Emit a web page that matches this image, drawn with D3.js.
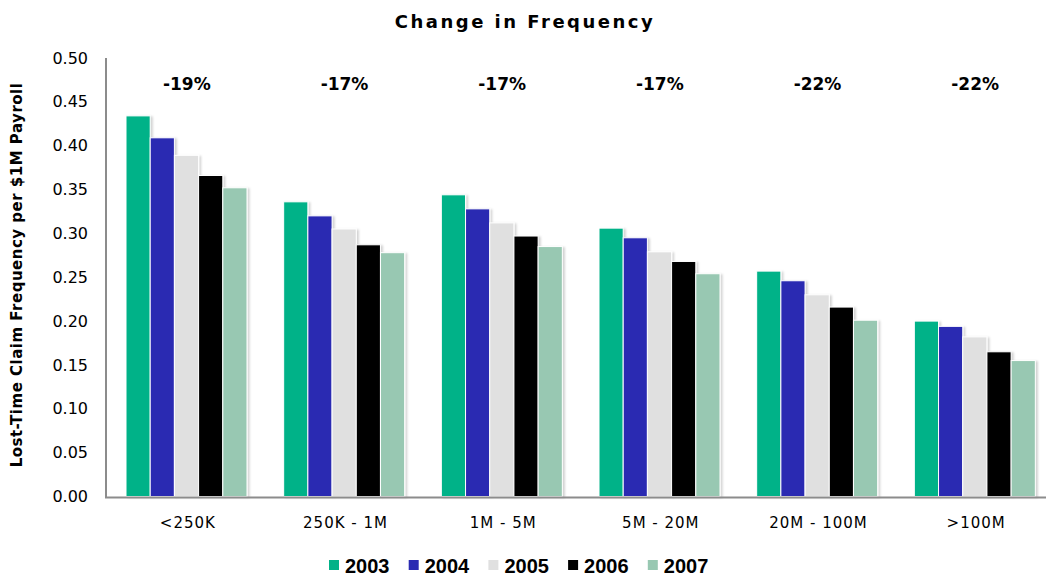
<!DOCTYPE html>
<html>
<head>
<meta charset="utf-8">
<script src="https://cdn.jsdelivr.net/npm/d3@7"></script>
<style>
  html, body { margin: 0; padding: 0; background: #fff; }
  svg { display: block; }
</style>
</head>
<body>
<svg id="chart" width="1046" height="579"></svg>
<script>
// Size bands (payroll) and survey years
const categories = ["<250K", "250K - 1M", "1M - 5M", "5M - 20M", "20M - 100M", ">100M"];
const years = ["2003", "2004", "2005", "2006", "2007"];

// Lost-time claim frequency per $1M payroll, one array per year
const freq2003 = [0.434, 0.336, 0.344, 0.306, 0.257, 0.200];
const freq2004 = [0.409, 0.320, 0.328, 0.295, 0.246, 0.194];
const freq2005 = [0.389, 0.305, 0.312, 0.279, 0.230, 0.182];
const freq2006 = [0.366, 0.287, 0.297, 0.268, 0.216, 0.165];
const freq2007 = [0.352, 0.278, 0.285, 0.254, 0.201, 0.155];

// Change 2003 -> 2007 per band
const changeLabels = ["-19%", "-17%", "-17%", "-17%", "-22%", "-22%"];

const yTicks = [0, 0.05, 0.10, 0.15, 0.20, 0.25, 0.30, 0.35, 0.40, 0.45, 0.50];

const seriesValues = [freq2003, freq2004, freq2005, freq2006, freq2007];
const colors = ["#03B288", "#2B2BB2", "#E0E0E0", "#000000", "#98C8B2"];

const svg = d3.select("#chart");

const defs = svg.append("defs");
const f = defs.append("filter").attr("id", "barShadow")
  .attr("x", "-20%").attr("y", "-5%").attr("width", "150%").attr("height", "120%");
f.append("feDropShadow").attr("dx", 2).attr("dy", 1).attr("stdDeviation", 1.2)
  .attr("flood-color", "#000").attr("flood-opacity", 0.18);

const x0 = d3.scaleBand().domain(categories).range([109, 1055]).padding(0);
const x1 = d3.scaleBand().domain(years).range([17, 138]).padding(0);
const y = d3.scaleLinear().domain([0, 0.5]).range([496.5, 58]);

// Bars
const groups = svg.append("g").selectAll("g")
  .data(categories)
  .join("g")
  .attr("transform", d => `translate(${x0(d)},0)`);

groups.selectAll("rect")
  .data((c, i) => years.map((yr, k) => ({ yr, k, v: seriesValues[k][i] })))
  .join("rect")
  .attr("x", d => x1(d.yr))
  .attr("y", d => y(d.v))
  .attr("width", x1.bandwidth())
  .attr("height", d => y(0) - y(d.v))
  .attr("fill", d => colors[d.k])
  .attr("stroke", "#fff")
  .attr("stroke-width", 1)
  .attr("filter", "url(#barShadow)");

// Axes
const yAxis = d3.axisLeft(y).tickValues(yTicks).tickFormat(d3.format(".2f"))
  .tickSize(0).tickPadding(18);
const gy = svg.append("g").attr("transform", "translate(106,0)").call(yAxis);
gy.select(".domain").remove();
gy.selectAll("text")
  .attr("font-family", "DejaVu Sans, Verdana, sans-serif")
  .attr("font-size", 16)
  .attr("fill", "#000");

const xAxis = d3.axisBottom(x0).tickSize(0).tickPadding(21);
const gx = svg.append("g").attr("transform", `translate(0,${y(0)})`).call(xAxis);
gx.select(".domain").remove();
gx.selectAll("text")
  .attr("font-family", "DejaVu Sans, Verdana, sans-serif")
  .attr("font-size", 15)
  .attr("letter-spacing", 1)
  .attr("fill", "#000");

svg.append("line")
  .attr("x1", 106).attr("x2", 106)
  .attr("y1", y(0.5)).attr("y2", y(0) + 1)
  .attr("stroke", "#8c8c8c").attr("stroke-width", 2);
svg.append("line")
  .attr("x1", 105).attr("x2", 1046)
  .attr("y1", y(0) + 1).attr("y2", y(0) + 1)
  .attr("stroke", "#8c8c8c").attr("stroke-width", 2);

// Change labels above each group
svg.append("g").selectAll("text")
  .data(categories)
  .join("text")
  .attr("x", d => x0(d) + x0.bandwidth() / 2 - 1)
  .attr("y", 90)
  .attr("text-anchor", "middle")
  .attr("font-family", "DejaVu Sans, Verdana, sans-serif")
  .attr("font-weight", "bold")
  .attr("font-size", 17)
  .text((d, i) => changeLabels[i]);

// Title
svg.append("text")
  .attr("x", 525).attr("y", 28)
  .attr("text-anchor", "middle")
  .attr("font-family", "DejaVu Sans, Verdana, sans-serif")
  .attr("font-weight", "bold")
  .attr("font-size", 18)
  .attr("letter-spacing", 2.5)
  .text("Change in Frequency");

// Y axis title
svg.append("text")
  .attr("transform", "translate(22,275) rotate(-90)")
  .attr("text-anchor", "middle")
  .attr("font-family", "DejaVu Sans, Verdana, sans-serif")
  .attr("font-weight", "bold")
  .attr("font-size", 15)
  .attr("letter-spacing", 0.5)
  .text("Lost-Time Claim Frequency per $1M Payroll");

// Legend
const legend = svg.append("g").selectAll("g")
  .data(years)
  .join("g")
  .attr("transform", (d, i) => `translate(${329 + i * 79.7},566)`);
legend.append("rect")
  .attr("x", 0).attr("y", -6).attr("width", 10).attr("height", 10)
  .attr("fill", (d, i) => colors[i]);
legend.append("text")
  .attr("x", 16).attr("y", 7)
  .attr("font-family", "Liberation Sans, Arial, sans-serif")
  .attr("font-weight", "bold")
  .attr("font-size", 20)
  .text(d => d);
</script>
</body>
</html>
